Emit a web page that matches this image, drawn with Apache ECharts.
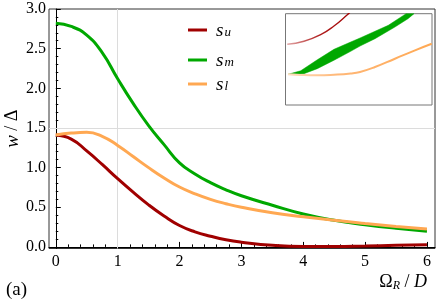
<!DOCTYPE html>
<html><head><meta charset="utf-8">
<script src="https://cdn.jsdelivr.net/npm/echarts@6/dist/echarts.min.js"></script>
<style>html,body{margin:0;padding:0;background:#fff}#c{width:436px;height:301px}</style>
</head><body><div id="c"></div>
<script>
// ---- main data ----
const xVals = [0,0.25,0.5,0.75,1,1.25,1.5,1.75,2,2.25,2.5,2.75,3,3.5,4,4.5,5,5.5,6];
const su = [1.41,1.36,1.21,1.04,0.86,0.69,0.53,0.39,0.27,0.19,0.135,0.09,0.06,0.02,0.005,0.006,0.012,0.02,0.027];
const sm = [2.82,2.78,2.67,2.45,2.12,1.81,1.53,1.29,1.06,0.92,0.81,0.72,0.645,0.525,0.415,0.335,0.28,0.235,0.198];
const sl = [1.41,1.435,1.445,1.395,1.28,1.14,1.0,0.87,0.755,0.67,0.60,0.545,0.50,0.43,0.38,0.335,0.295,0.258,0.225];
const xTicks = [0,1,2,3,4,5,6];
const yTicks = [0,0.5,1,1.5,2,2.5,3];
const xMinor = [0.2,0.4,0.6,0.8,1.2,1.4,1.6,1.8,2.2,2.4,2.6,2.8,3.2,3.4,3.6,3.8,4.2,4.4,4.6,4.8,5.2,5.4,5.6,5.8];
const yMinor = [0.1,0.2,0.3,0.4,0.6,0.7,0.8,0.9,1.1,1.2,1.3,1.4,1.6,1.7,1.8,1.9,2.1,2.2,2.3,2.4,2.6,2.7,2.8,2.9];
// ---- inset data (normalized units) ----
const inRedU = [0.012,0.126,0.240,0.331,0.422,0.45];
const inRedV = [0.665,0.698,0.770,0.865,0.989,1.03];
const inGreenLoU = [0.017,0.126,0.217,0.331,0.445,0.509,0.611,0.747,0.836,0.877];
const inGreenLoV = [0.336,0.343,0.398,0.490,0.588,0.646,0.726,0.854,0.945,1.0];
const inGreenUpU = [0.017,0.104,0.217,0.331,0.445,0.509,0.702,0.823];
const inGreenUpV = [0.336,0.375,0.495,0.610,0.690,0.734,0.873,1.0];
const inOrU = [0.017,0.099,0.217,0.331,0.445,0.509,0.611,0.747,0.884,0.998];
const inOrV = [0.336,0.329,0.325,0.331,0.345,0.362,0.416,0.507,0.599,0.671];

const RED='#a00000', GREEN='#00a800', ORANGE='#ffa852';
const SERIF='Liberation Serif';
const zip=(a,b)=>a.map((v,i)=>[v,b[i]]);
const subs={su:'u',sm:'m',sl:'l'};
const legendRich={
  s:{fontFamily:SERIF,fontStyle:'italic',fontSize:19,color:'#000',lineHeight:18,verticalAlign:'top',padding:[0,0,0,4]},
  b:{fontFamily:SERIF,fontStyle:'italic',fontSize:13,color:'#000',lineHeight:13,verticalAlign:'bottom',padding:[8,0,0,1]}
};
const legendTops=[18,48,72];
const chart=echarts.init(document.getElementById('c'),null,{renderer:'canvas'});
const mainAxisLabel={color:'#000',fontFamily:SERIF,fontSize:16};
const gridBase={outerBoundsMode:'none',containLabel:false};
chart.setOption({
  animation:false,
  grid:[
    Object.assign({left:49,right:1,top:9,bottom:52.5,show:true,borderColor:'#333',borderWidth:1},gridBase),
    Object.assign({left:285.5,top:13.7,width:146.5,height:91.3,show:true,borderColor:'#777',borderWidth:1,backgroundColor:'#fff',z:5},gridBase),
    Object.assign({left:49,right:1,top:9,bottom:52.5,show:false},gridBase)
  ],
  xAxis:[
    {gridIndex:0,type:'value',min:-0.11,max:6.13,
     axisLine:{lineStyle:{color:'#000',width:1}},
     axisTick:{inside:true,length:5,customValues:xTicks,lineStyle:{color:'#000'}},
     axisLabel:Object.assign({customValues:xTicks,margin:5,formatter:v=>String(v)},mainAxisLabel),
     splitLine:{show:false},
     name:'{o|Ω}{r|R}{n| / }{d|D}',nameLocation:'end',nameGap:-8,
     nameTextStyle:{align:'right',verticalAlign:'top',padding:[26,0,0,0],
       rich:{o:{fontFamily:SERIF,fontSize:18,color:'#000'},
             r:{fontFamily:SERIF,fontStyle:'italic',fontSize:12,color:'#000',verticalAlign:'bottom',padding:[7,0,0,0]},
             n:{fontFamily:SERIF,fontSize:18,color:'#000'},
             d:{fontFamily:SERIF,fontStyle:'italic',fontSize:18,color:'#000'}}}},
    {gridIndex:1,type:'value',min:0,max:1,show:false},
    {gridIndex:2,type:'value',min:-0.11,max:6.13,axisLine:{show:false},
     axisTick:{inside:true,length:2.5,customValues:xMinor,lineStyle:{color:'#000'}},
     axisLabel:{show:false},splitLine:{show:false}}
  ],
  yAxis:[
    {gridIndex:0,type:'value',min:-0.02,max:3.0,
     axisLine:{show:true,lineStyle:{color:'#000',width:1}},
     axisTick:{show:true,inside:true,length:5,customValues:yTicks,lineStyle:{color:'#000'}},
     axisLabel:Object.assign({customValues:yTicks,margin:3,formatter:v=>v.toFixed(1)},mainAxisLabel),
     splitLine:{show:false},
     name:'{w|w}{n| / Δ}',nameLocation:'middle',nameRotate:90,nameGap:27,nameMoveOverlap:false,
     nameTextStyle:{rich:{w:{fontFamily:SERIF,fontStyle:'italic',fontSize:19,color:'#000'},
                          n:{fontFamily:SERIF,fontSize:18,color:'#000'}}}},
    {gridIndex:1,type:'value',min:0,max:1,show:false},
    {gridIndex:2,type:'value',min:-0.02,max:3.0,axisLine:{show:false},
     axisTick:{show:true,inside:true,length:2.5,customValues:yMinor,lineStyle:{color:'#000'}},
     axisLabel:{show:false},splitLine:{show:false}}
  ],
  legend:['su','sm','sl'].map((n,i)=>({
    data:[n],left:188,top:legendTops[i],orient:'vertical',padding:0,
    icon:'rect',itemWidth:19,itemHeight:3,
    formatter:name=>'{s|s}{b|'+subs[name]+'}',
    textStyle:{rich:legendRich}
  })),
  series:[
    {name:'su',type:'line',xAxisIndex:0,yAxisIndex:0,data:zip(xVals,su),smooth:0.5,showSymbol:false,
     lineStyle:{color:RED,width:3},itemStyle:{color:RED},z:3,
     markLine:{silent:true,symbol:'none',label:{show:false},
       lineStyle:{color:'#dcdcdc',width:1,type:'solid'},data:[{xAxis:1},{yAxis:1.5}],z:1}},
    {name:'sm',type:'line',xAxisIndex:0,yAxisIndex:0,data:zip(xVals,sm),smooth:0.5,showSymbol:false,
     lineStyle:{color:GREEN,width:3},itemStyle:{color:GREEN},z:3},
    {name:'sl',type:'line',xAxisIndex:0,yAxisIndex:0,data:zip(xVals,sl),smooth:0.5,showSymbol:false,
     lineStyle:{color:ORANGE,width:3},itemStyle:{color:ORANGE},z:4},
    // inset
    {name:'inRed',type:'line',xAxisIndex:1,yAxisIndex:1,data:zip(inRedU,inRedV),smooth:0.5,showSymbol:false,clip:true,
     lineStyle:{width:1.4,color:new echarts.graphic.LinearGradient(0,0,1,0,[{offset:0,color:'#e6b0b0'},{offset:0.5,color:'#b02020'},{offset:1,color:RED}])},z:10},
    {name:'inGreen',type:'custom',xAxisIndex:1,yAxisIndex:1,data:[[0,0]],z:10,
     renderItem:(params,api)=>{
       const lo=zip(inGreenLoU,inGreenLoV).map(p=>api.coord(p));
       const up=zip(inGreenUpU,inGreenUpV).map(p=>api.coord(p)).reverse();
       return {type:'polygon',shape:{points:lo.concat(up)},style:{fill:GREEN,stroke:GREEN,lineWidth:0.5}};
     }},
    {name:'inOrange',type:'line',xAxisIndex:1,yAxisIndex:1,data:zip(inOrU,inOrV),smooth:0.5,showSymbol:false,clip:true,
     lineStyle:{width:2,color:new echarts.graphic.LinearGradient(0,0,1,0,[{offset:0,color:'#ffe0c4'},{offset:0.35,color:'#ffb878'},{offset:1,color:ORANGE}])},z:10}
  ],
  graphic:[{type:'text',left:6,top:281,style:{text:'(a)',fontFamily:SERIF,fontSize:19,fill:'#000'}}]
});
</script></body></html>
